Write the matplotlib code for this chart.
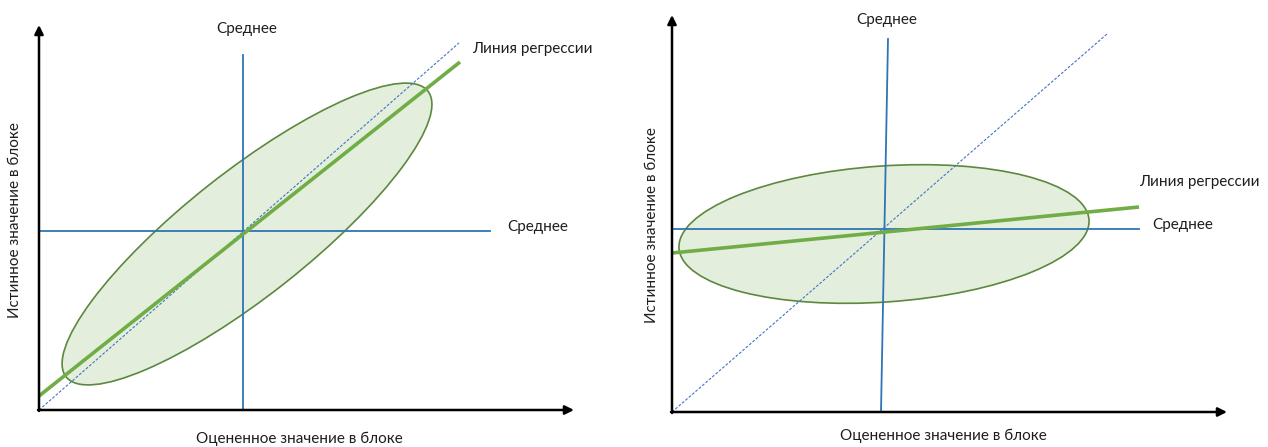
import matplotlib
matplotlib.use("Agg")
import matplotlib.pyplot as plt
from matplotlib.patches import Ellipse

plt.rcParams['font.family'] = ['Lato', 'DejaVu Sans']

# two panels: left = strong correlation, right = weak correlation
# coordinates are in picture pixels (y grows downward)
origin_x = [39, 672]
origin_y = [410, 412]
x_axis_tip = [574, 1227]
y_axis_tip = [25, 15]

mean_v_top_x = [243, 888]
mean_v_bot_x = [243, 881]
mean_v_top_y = [55, 39]
mean_h_y = [231, 229]
mean_h_end = [490, 1139]

diag_end_x = [459, 1107]
diag_end_y = [43, 34]

reg_start_y = [396, 253]
reg_end_x = [460, 1139]
reg_end_y = [62, 207]

ell_cx = [247, 884]
ell_cy = [234, 234]
ell_w = [461, 411]
ell_h = [124, 136]
ell_angle = [38.3, 4.0]

txt_mean_top = [(247, 29), (887, 20)]
txt_mean_right = [(507, 227), (1152, 225)]
txt_reg = [(472, 49), (1139, 182)]
txt_xlabel = [(299, 439), (943, 436)]
txt_ylabel = [(15, 220), (652, 225)]

label_mean = 'Среднее'
label_reg = 'Линия регрессии'
label_x = 'Оцененное значение в блоке'
label_y = 'Истинное значение в блоке'

c_blue = '#2E75B6'
c_green = '#70AD47'
c_edge = '#548235'
c_fill = '#E2EFDA'
c_dash = '#4472C4'
c_text = '#1E1E1E'

fig = plt.figure(figsize=(12.68, 4.47), dpi=100)
ax = fig.add_axes([0, 0, 1, 1])
ax.set_xlim(0, 1268)
ax.set_ylim(447, 0)
ax.axis('off')

for i in range(2):
    ox, oy = origin_x[i], origin_y[i]

    e = Ellipse((ell_cx[i], ell_cy[i]), ell_w[i], ell_h[i], angle=-ell_angle[i],
                facecolor=c_fill, edgecolor=c_edge, lw=1.2, alpha=0.95, zorder=1)
    ax.add_patch(e)

    # means
    ax.plot([mean_v_top_x[i], mean_v_bot_x[i]], [mean_v_top_y[i], oy], color=c_blue, lw=1.3, zorder=2)
    ax.plot([ox, mean_h_end[i]], [mean_h_y[i], mean_h_y[i]], color=c_blue, lw=1.3, zorder=2)

    # 45 degree line
    ax.plot([ox, diag_end_x[i]], [oy, diag_end_y[i]], color=c_dash, lw=0.8,
            dashes=(2.5, 1.5), zorder=3)

    # regression
    ax.plot([ox, reg_end_x[i]], [reg_start_y[i], reg_end_y[i]], color=c_green, lw=2.6,
            solid_capstyle='butt', zorder=4)

    # axes arrows
    ax.annotate('', xy=(x_axis_tip[i], oy), xytext=(ox - 1, oy),
                arrowprops=dict(arrowstyle='-|>', lw=1.8, color='black',
                                mutation_scale=13, shrinkA=0, shrinkB=0), zorder=5)
    ax.annotate('', xy=(ox, y_axis_tip[i]), xytext=(ox, oy + 1),
                arrowprops=dict(arrowstyle='-|>', lw=1.8, color='black',
                                mutation_scale=13, shrinkA=0, shrinkB=0), zorder=5)

    fs = 11
    ax.text(*txt_mean_top[i], label_mean, ha='center', va='center', fontsize=fs, color=c_text)
    ax.text(*txt_mean_right[i], label_mean, ha='left', va='center', fontsize=fs, color=c_text)
    ax.text(*txt_reg[i], label_reg, ha='left', va='center', fontsize=fs, color=c_text)
    ax.text(*txt_xlabel[i], label_x, ha='center', va='center', fontsize=fs, color=c_text)
    ax.text(*txt_ylabel[i], label_y, ha='center', va='center', fontsize=fs, color=c_text,
            rotation=90)

fig.savefig('out.png', dpi=100)
